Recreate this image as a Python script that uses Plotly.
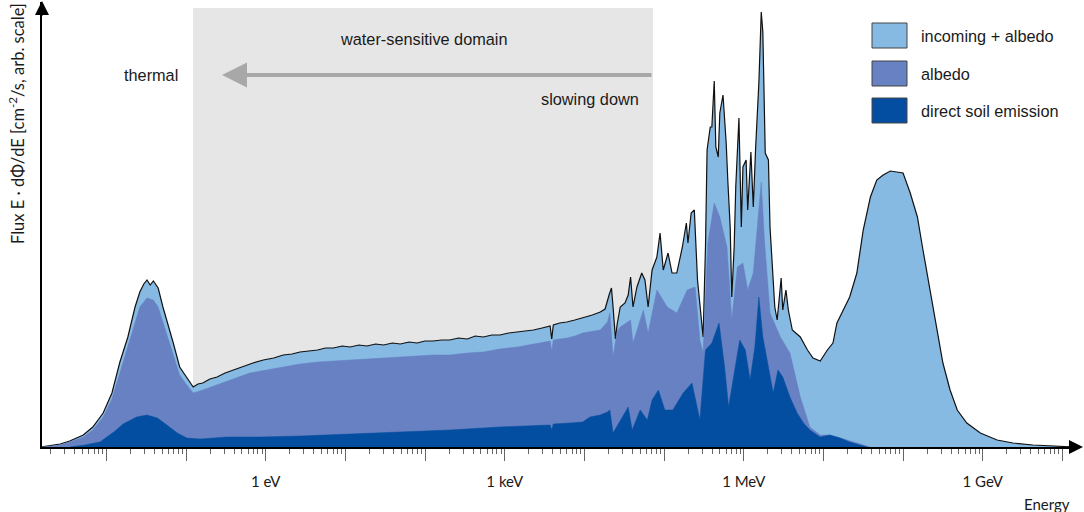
import plotly.graph_objects as go

# Energy axis in log10(E / eV); flux in arbitrary units
LOG_E_TOTAL = [-2.81, -2.71, -2.58, -2.46, -2.29, -2.17, -2.04, -1.93, -1.83, -1.73,
               -1.64, -1.58, -1.53, -1.49, -1.45, -1.41, -1.35, -1.29, -1.23, -1.16,
               -1.08, -0.99, -0.91, -0.85, -0.79, -0.70, -0.61, -0.51, -0.41, -0.28,
               -0.16, -0.03, 0.10, 0.22, 0.33, 0.43, 0.54, 0.65, 0.75, 0.85,
               0.96, 1.06, 1.17, 1.27, 1.38, 1.48, 1.59, 1.69, 1.80, 1.90,
               2.00, 2.10, 2.21, 2.31, 2.42, 2.53, 2.63, 2.73, 2.84, 2.94,
               3.05, 3.16, 3.26, 3.36, 3.47, 3.57, 3.59, 3.61, 3.69, 3.78,
               3.88, 3.98, 4.10, 4.20, 4.26, 4.31, 4.34, 4.36, 4.39, 4.41,
               4.45, 4.51, 4.55, 4.58, 4.61, 4.66, 4.72, 4.76, 4.80, 4.85,
               4.91, 4.95, 4.99, 5.05, 5.10, 5.16, 5.23, 5.28, 5.30, 5.34,
               5.38, 5.42, 5.45, 5.49, 5.52, 5.54, 5.58, 5.60, 5.63, 5.65,
               5.68, 5.70, 5.74, 5.78, 5.80, 5.83, 5.85, 5.88, 5.90, 5.94,
               5.97, 5.99, 6.03, 6.05, 6.09, 6.12, 6.15, 6.19, 6.22, 6.24,
               6.27, 6.31, 6.33, 6.36, 6.39, 6.42, 6.47, 6.49, 6.53, 6.56,
               6.61, 6.71, 6.80, 6.87, 6.96, 7.05, 7.12, 7.17, 7.25, 7.33,
               7.42, 7.50, 7.59, 7.67, 7.75, 7.84, 7.92, 8.00, 8.09, 8.18,
               8.25, 8.34, 8.43, 8.50, 8.59, 8.68, 8.80, 8.97, 9.18, 9.38,
               9.63, 9.93, 10.16]
FLUX_TOTAL = [0, 1, 3, 6, 12, 20, 34, 54, 85, 110,
              140, 155, 163, 167, 162, 166, 159, 140, 124, 104,
              80, 70, 60, 63, 64, 68, 70, 74, 77, 81,
              84, 87, 89, 92, 93, 95, 96, 97, 99, 99,
              101, 100, 102, 101, 103, 102, 104, 103, 105, 104,
              106, 106, 107, 107, 109, 108, 111, 110, 112, 112,
              114, 115, 116, 117, 119, 121, 108, 122, 124, 125,
              127, 129, 132, 135, 138, 152, 159, 140, 108, 122,
              140, 144, 152, 170, 140, 160, 174, 167, 140, 177,
              190, 214, 177, 194, 174, 174, 200, 224, 204, 234,
              237, 167, 140, 110, 200, 297, 320, 320, 366, 300,
              290, 334, 352, 304, 267, 220, 150, 200, 260, 329,
              220, 280, 287, 237, 295, 240, 300, 364, 435, 415,
              294, 287, 220, 180, 140, 127, 169, 137, 157, 137,
              117, 110, 97, 89, 86, 97, 104, 124, 137, 150,
              174, 217, 250, 267, 272, 276, 275, 274, 254, 230,
              197, 157, 117, 84, 57, 37, 24, 14, 7, 4,
              2, 1, 0]

LOG_E_ALBEDO = [-2.81, -2.58, -2.46, -2.29, -2.17, -2.04, -1.93, -1.83, -1.73, -1.64,
                -1.58, -1.49, -1.41, -1.35, -1.29, -1.23, -1.16, -1.08, -0.99, -0.91,
                -0.79, -0.61, -0.41, -0.20, 0.01, 0.22, 0.43, 0.65, 0.85, 1.06,
                1.27, 1.48, 1.69, 1.90, 2.10, 2.31, 2.53, 2.73, 2.94, 3.16,
                3.36, 3.57, 3.59, 3.61, 3.78, 3.88, 3.98, 4.20, 4.29, 4.32,
                4.36, 4.41, 4.45, 4.58, 4.61, 4.74, 4.80, 4.91, 5.04, 5.16,
                5.29, 5.39, 5.45, 5.49, 5.55, 5.63, 5.70, 5.79, 5.85, 5.92,
                5.99, 6.05, 6.12, 6.18, 6.22, 6.26, 6.33, 6.46, 6.58, 6.71,
                6.83, 6.96, 7.08, 7.30, 7.50, 7.59]
FLUX_ALBEDO = [0, 2, 5, 10, 17, 30, 48, 75, 100, 125,
               140, 149, 147, 140, 125, 110, 93, 72, 62, 54,
               57, 62, 68, 74, 77, 80, 83, 85, 86, 87,
               88, 89, 90, 91, 92, 92, 94, 95, 98, 100,
               103, 106, 96, 107, 109, 111, 114, 117, 125, 134,
               90, 115, 120, 127, 104, 137, 114, 157, 140, 134,
               157, 160, 107, 94, 204, 244, 230, 200, 127, 180,
               184, 157, 174, 224, 265, 207, 134, 110, 94, 50,
               20, 12, 12, 7, 2, 0]

LOG_E_SOIL = [-2.46, -2.27, -2.08, -1.99, -1.89, -1.79, -1.70, -1.62, -1.49, -1.36,
              -1.24, -1.11, -0.99, -0.82, -0.49, -0.07, 0.43, 1.06, 1.69, 2.31,
              2.94, 3.57, 3.59, 3.61, 3.82, 3.98, 4.07, 4.20, 4.29, 4.32,
              4.36, 4.45, 4.55, 4.60, 4.70, 4.79, 4.85, 4.93, 5.01, 5.11,
              5.24, 5.35, 5.45, 5.52, 5.60, 5.69, 5.76, 5.81, 5.89, 5.95,
              6.02, 6.08, 6.14, 6.19, 6.24, 6.31, 6.37, 6.43, 6.49, 6.58,
              6.67, 6.75, 6.83, 6.96, 7.08, 7.21, 7.33, 7.46, 7.55]
FLUX_SOIL = [0, 2, 5, 10, 16, 23, 27, 30, 32, 29,
             22, 14, 9, 8, 10, 10, 11, 13, 15, 17,
             20, 22, 17, 23, 24, 25, 30, 32, 35, 37,
             14, 27, 40, 17, 37, 27, 47, 57, 37, 37,
             54, 64, 27, 97, 104, 124, 80, 40, 80, 107,
             97, 67, 100, 150, 110, 80, 54, 77, 70, 50,
             34, 24, 17, 10, 12, 9, 5, 2, 0]

TICK_LOG = list(range(-2, 11))
TICK_TEXT = {0: "1 eV", 3: "1 keV", 6: "1 MeV", 9: "1 GeV"}

C_TOTAL = "#86bae3"
C_ALBEDO = "#6781c2"
C_SOIL = "#044ea1"

LEFT, RIGHT, TOP, BOTTOM = 42, 6, 2, 65
W = 1084 - LEFT - RIGHT
H = 512 - TOP - BOTTOM


def px(x):
    return (x - LEFT) / W


def py(y):
    return (512 - BOTTOM - y) / H


fig = go.Figure()
fig.add_trace(go.Scatter(x=[10 ** v for v in LOG_E_TOTAL], y=FLUX_TOTAL,
                         fill="tozeroy", fillcolor=C_TOTAL, mode="lines",
                         line=dict(color="#111111", width=1.2), name="incoming + albedo"))
fig.add_trace(go.Scatter(x=[10 ** v for v in LOG_E_ALBEDO], y=FLUX_ALBEDO,
                         fill="tozeroy", fillcolor=C_ALBEDO, mode="lines",
                         line=dict(color=C_ALBEDO, width=0.5), name="albedo"))
fig.add_trace(go.Scatter(x=[10 ** v for v in LOG_E_SOIL], y=FLUX_SOIL,
                         fill="tozeroy", fillcolor=C_SOIL, mode="lines",
                         line=dict(color=C_SOIL, width=0.5), name="direct soil emission"))

txt = dict(family="Liberation Sans, Arial, sans-serif", size=16.3, color="#1a1a1a")
lbl = dict(family="Lato, sans-serif", size=15, color="#1a1a1a")


def label(x, y, text, font=txt, anchor="center", **kw):
    return dict(xref="paper", yref="paper", x=px(x), y=py(y), text=text,
                xanchor=anchor, yanchor="middle", showarrow=False, font=font, **kw)


shapes = [dict(type="rect", xref="paper", yref="paper", x0=px(193), x1=px(653),
               y0=0, y1=py(8), fillcolor="#e6e6e6", line_width=0, layer="below")]
legend_items = [("incoming + albedo", C_TOTAL, 23), ("albedo", C_ALBEDO, 61),
                ("direct soil emission", C_SOIL, 98)]
annotations = []
for name, col, top in legend_items:
    shapes.append(dict(type="rect", xref="paper", yref="paper", x0=px(872), x1=px(907),
                       y0=py(top + 25), y1=py(top), fillcolor=col,
                       line=dict(color="#444444", width=1)))
    annotations.append(label(919, top + 13, name, anchor="left"))

annotations += [
    dict(xref="paper", yref="paper", x=px(222), y=py(75), ax=431, ay=0, text="",
         showarrow=True, arrowhead=2, arrowwidth=4, arrowsize=1.25, arrowcolor="#a8a8a8"),
    label(151, 75, "thermal"),
    label(424, 39, "water-sensitive domain"),
    label(641, 99, "slowing down", anchor="right"),
    label(1047, 504, "Energy", font=lbl),
    label(17, 124, "Flux E \u00b7 d\u03a6/dE [cm<sup>-2</sup>/s, arb. scale]",
          font=dict(family="Lato, sans-serif", size=16.5, color="#1a1a1a"), textangle=-90),
    # axis arrow heads
    dict(xref="paper", yref="paper", x=0, y=py(1), ax=0, ay=16, text="",
         showarrow=True, arrowhead=2, arrowwidth=2, arrowsize=1.4, arrowcolor="black"),
    dict(xref="paper", yref="paper", x=px(1083), y=0, ax=-16, ay=0, text="",
         showarrow=True, arrowhead=2, arrowwidth=2, arrowsize=1.4, arrowcolor="black"),
]

fig.update_layout(
    width=1084, height=512,
    margin=dict(l=LEFT, r=RIGHT, t=TOP, b=BOTTOM),
    paper_bgcolor="white", plot_bgcolor="white",
    showlegend=False,
    shapes=shapes, annotations=annotations,
    xaxis=dict(type="log", range=[(LEFT - 265.7) / 79.67, (1078 - 265.7) / 79.67],
               automargin=False,
               showline=True, linecolor="black", linewidth=2, showgrid=False, zeroline=False,
               tickmode="array", tickvals=[10 ** v for v in TICK_LOG],
               ticktext=[TICK_TEXT.get(v, "") for v in TICK_LOG],
               ticks="outside", ticklen=12, tickwidth=1, tickcolor="#666666",
               ticklabelstandoff=8, tickfont=lbl,
               minor=dict(ticks="outside", ticklen=5, tickwidth=1, tickcolor="#666666",
                          dtick="D1", showgrid=False)),
    yaxis=dict(range=[0, H], automargin=False, showline=True, linecolor="black", linewidth=2,
               showgrid=False, zeroline=False, showticklabels=False, ticks=""),
)

# page body has a default 8px margin; remove it so the figure sits at the window origin
fig.write_html("out.html", config={"displayModeBar": False},
               post_script="document.body.style.margin='0';document.body.style.overflow='hidden';")
